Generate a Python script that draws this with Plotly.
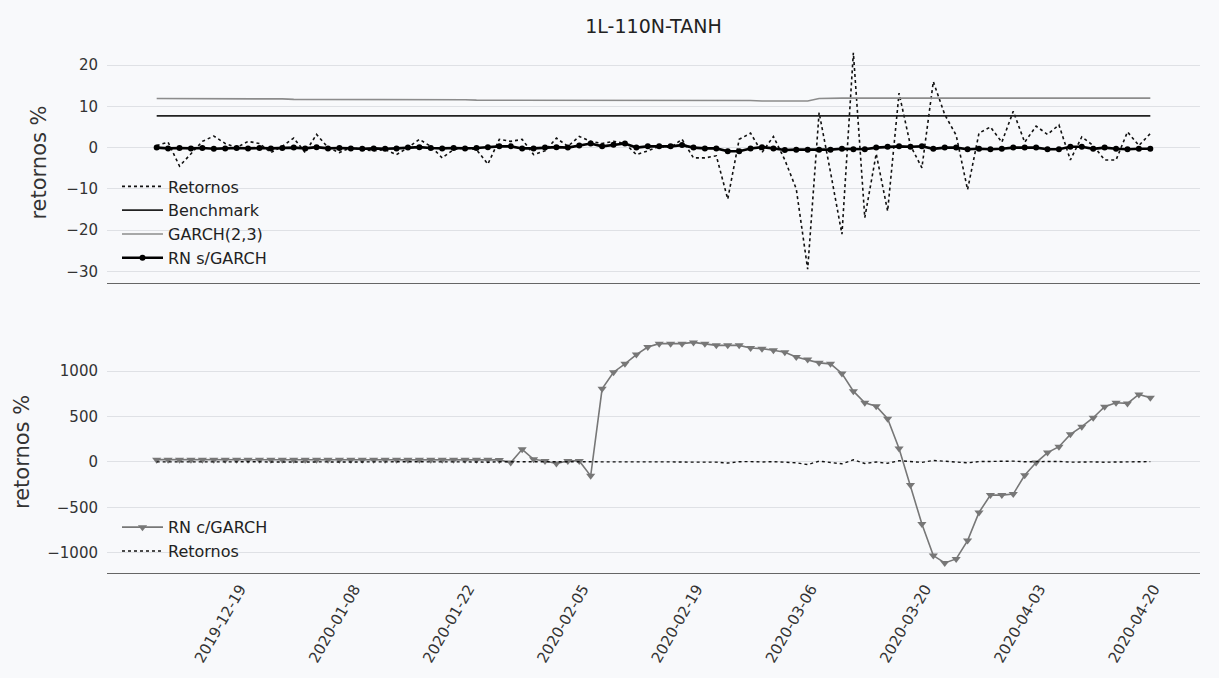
import plotly.graph_objects as go

# ---------------- data ----------------
n_points = 88
idx = list(range(n_points))

retornos = [0.5, 1.3, -4.5, -1.5, 1.5, 2.8, 1.0, 0.0, 1.5, 1.0,
            -1.2, 0.3, 2.3, -1.2, 3.2, 0.0, -1.2, 0.0, -0.5, -0.8,
            -0.5, -1.7, 0.0, 2.0, 0.3, -2.5, -0.5, 0.0, -0.5, -4.0,
            2.0, 1.5, 2.0, -1.7, -0.8, 2.3, 0.3, 2.7, 1.5, 1.0,
            1.5, 1.0, -1.7, -0.8, 0.3, 0.0, 2.0, -2.5, -2.5, -2.0,
            -12.5, 2.0, 3.5, -1.2, 2.7, -3.0, -10.0, -29.5, 8.5, -6.0,
            -21.0, 23.0, -17.0, -1.5, -15.4, 13.2, 0.5, -4.9, 16.0, 8.0,
            3.0, -10.2, 3.5, 5.0, 1.3, 8.8, 1.3, 5.2, 3.2, 5.5,
            -3.0, 2.6, 0.5, -3.0, -3.0, 3.8, 0.5, 3.4]

benchmark = [7.7] * n_points

garch = [11.9, 11.9, 11.9, 11.8, 11.8, 11.8, 11.8, 11.8, 11.8, 11.8,
         11.8, 11.8, 11.7, 11.7, 11.7, 11.7, 11.7, 11.7, 11.7, 11.7,
         11.6, 11.6, 11.6, 11.6, 11.6, 11.6, 11.6, 11.6, 11.5, 11.5,
         11.5, 11.5, 11.5, 11.5, 11.5, 11.5, 11.5, 11.5, 11.5, 11.5,
         11.4, 11.4, 11.4, 11.4, 11.4, 11.4, 11.4, 11.4, 11.4, 11.4,
         11.4, 11.4, 11.4, 11.3, 11.3, 11.3, 11.3, 11.3, 11.9, 12.0,
         12.0, 12.0, 12.0, 12.0, 12.0, 12.0, 12.0, 12.0, 12.0, 12.0,
         12.0, 12.0, 12.0, 12.0, 12.0, 12.0, 12.0, 12.0, 12.0, 12.0,
         12.0, 12.0, 12.0, 12.0, 12.0, 12.0, 12.0, 12.0]

rn_s_garch = [0.0, -0.2, -0.1, -0.2, -0.1, -0.3, -0.2, -0.1, -0.2, -0.1,
              -0.2, -0.1, 0.0, -0.2, 0.1, -0.2, -0.1, -0.2, -0.3, -0.2,
              -0.3, -0.2, 0.0, 0.1, -0.1, -0.2, -0.1, -0.2, -0.1, 0.1,
              0.3, 0.3, -0.2, -0.2, 0.0, 0.1, 0.0, 0.5, 1.0, 0.3,
              0.7, 1.0, 0.0, 0.3, 0.3, 0.3, 0.6, 0.0, -0.2, -0.2,
              -0.9, -0.9, -0.2, 0.1, -0.2, -0.6, -0.5, -0.5, -0.5, -0.5,
              -0.3, -0.4, -0.4, 0.0, 0.2, 0.3, 0.2, 0.3, -0.3, 0.0,
              0.0, -0.4, -0.3, -0.4, -0.3, 0.0, 0.0, 0.0, -0.4, -0.4,
              0.2, 0.2, -0.3, 0.0, -0.3, -0.4, -0.3, -0.3]

rn_c_garch = [25, 25, 25, 25, 25, 25, 25, 25, 25, 25,
              25, 25, 25, 25, 25, 25, 25, 25, 25, 25,
              25, 25, 25, 25, 25, 25, 25, 25, 25, 25,
              22, -7, 139, 29, 11, -18, 11, 11, -154, 806,
              989, 1081, 1183, 1267, 1304, 1304, 1304, 1318, 1304, 1285,
              1285, 1285, 1256, 1249, 1231, 1209, 1157, 1128, 1092, 1081,
              975, 780, 652, 615, 476, 147, -256, -685, -1033, -1114,
              -1070, -868, -557, -366, -366, -355, -147, -7, 103, 168,
              304, 388, 487, 608, 652, 645, 744, 707]

tick_labels = ["2019-12-19", "2020-01-08", "2020-01-22", "2020-02-05", "2020-02-19",
               "2020-03-06", "2020-03-20", "2020-04-03", "2020-04-20"]
tick_pos = [7.3, 17.3, 27.3, 37.3, 47.3, 57.3, 67.3, 77.3, 87.3]

# ---------------- style ----------------
BG = "#f8f9fb"
GRID = "#dfe1e5"
SPINE = "#666666"
FONT = "DejaVu Sans"
TXT = "#333333"

fig = go.Figure()

# top panel
fig.add_trace(go.Scatter(x=idx, y=retornos, name="Retornos", mode="lines",
                         line=dict(color="#111111", width=1.6, dash="dot"),
                         xaxis="x", yaxis="y", legend="legend", legendgroup="a"))
fig.add_trace(go.Scatter(x=idx, y=benchmark, name="Benchmark", mode="lines",
                         line=dict(color="#222222", width=1.8),
                         xaxis="x", yaxis="y", legend="legend", legendgroup="b"))
fig.add_trace(go.Scatter(x=idx, y=garch, name="GARCH(2,3)", mode="lines",
                         line=dict(color="#8c8c8c", width=1.6),
                         xaxis="x", yaxis="y", legend="legend", legendgroup="c"))
fig.add_trace(go.Scatter(x=idx, y=rn_s_garch, name="RN s/GARCH", mode="lines+markers",
                         line=dict(color="#000000", width=2.6),
                         marker=dict(symbol="circle", size=6, color="#000000"),
                         xaxis="x", yaxis="y", legend="legend", legendgroup="d"))

# bottom panel
fig.add_trace(go.Scatter(x=idx, y=rn_c_garch, name="RN c/GARCH", mode="lines+markers",
                         line=dict(color="#777777", width=1.6),
                         marker=dict(symbol="triangle-down", size=8, color="#777777"),
                         xaxis="x2", yaxis="y2", legend="legend2", legendgroup="e"))
fig.add_trace(go.Scatter(x=idx, y=retornos, name="Retornos", mode="lines",
                         line=dict(color="#111111", width=1.4, dash="dot"),
                         xaxis="x2", yaxis="y2", legend="legend2", legendgroup="f"))

xr = [-4.35, 91.35]
axis_font = dict(family=FONT, size=15, color=TXT)
title_font = dict(family=FONT, size=21, color=TXT)
leg_font = dict(family=FONT, size=16, color="#222222")

fig.update_layout(
    width=1219, height=678,
    paper_bgcolor=BG, plot_bgcolor=BG,
    margin=dict(l=107, r=19, t=42, b=103),
    font=dict(family=FONT, color=TXT),
    title=dict(text="1L-110N-TANH", x=0.5, xref="paper", y=1 - 26 / 678,
               yanchor="middle", font=dict(family=FONT, size=19, color="#222222")),
    xaxis=dict(domain=[0, 1], range=xr, anchor="y", showticklabels=False,
               showgrid=False, zeroline=False, showline=True, linecolor=SPINE,
               linewidth=1.3, ticks=""),
    yaxis=dict(domain=[0.546, 1], range=[-32.85, 25.6], dtick=10, tick0=0,
               showgrid=True, gridcolor=GRID, gridwidth=1, zeroline=False,
               showline=False, ticks="", ticklabelstandoff=8, tickfont=axis_font,
               title=dict(text="retornos %", font=title_font, standoff=13)),
    xaxis2=dict(domain=[0, 1], range=xr, anchor="y2", matches="x",
                tickmode="array", tickvals=tick_pos, ticktext=tick_labels,
                tickangle=-60, tickfont=axis_font, showgrid=False, zeroline=False,
                showline=True, linecolor=SPINE, linewidth=1.3, ticks=""),
    yaxis2=dict(domain=[0, 0.456], range=[-1225, 1445], dtick=500, tick0=0,
                showgrid=True, gridcolor=GRID, gridwidth=1, zeroline=False,
                showline=False, ticks="", ticklabelstandoff=8, tickfont=axis_font,
                title=dict(text="retornos %", font=title_font, standoff=11)),
    legend=dict(x=(117 - 107) / 1093, y=(575 - 170) / 533, xanchor="left", yanchor="top",
                bgcolor="rgba(0,0,0,0)", font=leg_font, itemwidth=41,
                tracegroupgap=4, traceorder="normal"),
    legend2=dict(x=(117 - 107) / 1093, y=(575 - 512) / 533, xanchor="left", yanchor="top",
                 bgcolor="rgba(0,0,0,0)", font=leg_font, itemwidth=41,
                 tracegroupgap=4, traceorder="normal"),
)

fig.write_html("out.html")
